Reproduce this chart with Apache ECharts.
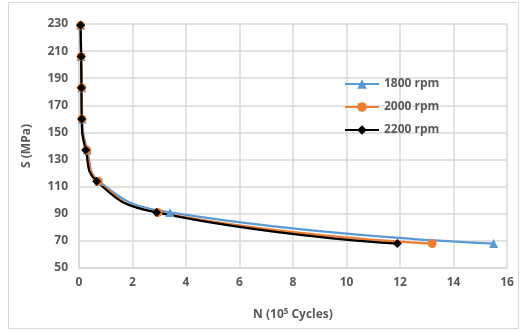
<!DOCTYPE html>
<html>
<head>
<meta charset="utf-8">
<script src="https://cdn.jsdelivr.net/npm/echarts@6/dist/echarts.min.js"></script>
<style>
  html, body { margin: 0; padding: 0; background: #fff; }
  #chart { width: 520px; height: 332px; }
</style>
</head>
<body>
<div id="chart"></div>
<script>
  // 应力值 S (MPa)
  const stress = [229, 206, 183, 160, 137, 114, 91, 68];
  // 循环次数 N (10^5 cycles)
  const cycles1800 = [0.06, 0.08, 0.10, 0.12, 0.31, 0.74, 3.4, 15.5];
  const cycles2000 = [0.06, 0.08, 0.10, 0.11, 0.29, 0.72, 2.95, 13.2];
  const cycles2200 = [0.06, 0.08, 0.09, 0.10, 0.25, 0.66, 2.9, 11.9];
  const seriesNames = ['1800 rpm', '2000 rpm', '2200 rpm'];

  const font = "'Open Sans', 'Liberation Sans', sans-serif";
  const textColor = '#595959';
  const gridColor = '#d9d9d9';
  const txt = { color: textColor, fontFamily: font, fontWeight: 'bold', fontSize: 12 };

  function pairs(xs) {
    return xs.map((x, i) => [x, stress[i]]);
  }

  const chart = echarts.init(document.getElementById('chart'));
  chart.setOption({
    animation: false,
    graphic: [{
      type: 'rect',
      shape: { x: 8.5, y: 2.5, width: 510, height: 326 },
      style: { fill: 'none', stroke: gridColor, lineWidth: 1 },
      silent: true
    }],
    grid: { left: 79, right: 13, top: 24, bottom: 64 },
    legend: {
      orient: 'vertical',
      left: 339,
      top: 73,
      itemGap: 11,
      itemWidth: 34,
      itemHeight: 12,
      data: seriesNames,
      textStyle: txt
    },
    xAxis: {
      type: 'value',
      min: 0, max: 16, interval: 2,
      name: '{a|N (10}{b|5}{a| Cycles)}',
      nameLocation: 'middle',
      nameGap: 40,
      nameTextStyle: Object.assign({}, txt, {
        rich: {
          a: txt,
          b: Object.assign({}, txt, { fontSize: 8, padding: [0, 0, 6, 0] })
        }
      }),
      axisLine: { show: true, lineStyle: { color: gridColor, width: 1.5 } },
      axisTick: { show: false },
      axisLabel: Object.assign({}, txt, { margin: 9 }),
      splitLine: { show: true, lineStyle: { color: gridColor, width: 1.5 } }
    },
    yAxis: {
      type: 'value',
      min: 50, max: 230, interval: 20,
      name: 'S (MPa)',
      nameLocation: 'middle',
      nameGap: 46,
      nameTextStyle: txt,
      axisLine: { show: true, lineStyle: { color: gridColor, width: 1.5 } },
      axisTick: { show: false },
      axisLabel: Object.assign({}, txt, { margin: 11 }),
      splitLine: { show: true, lineStyle: { color: gridColor, width: 1.5 } }
    },
    series: [
      {
        name: seriesNames[0], type: 'line', smooth: 0.5,
        data: pairs(cycles1800),
        symbol: 'triangle', symbolSize: 9,
        itemStyle: { color: '#5b9bd5' },
        lineStyle: { color: '#5b9bd5', width: 2.25 }
      },
      {
        name: seriesNames[1], type: 'line', smooth: 0.5,
        data: pairs(cycles2000),
        symbol: 'circle', symbolSize: 9,
        itemStyle: { color: '#ed7d31' },
        lineStyle: { color: '#ed7d31', width: 2.25 }
      },
      {
        name: seriesNames[2], type: 'line', smooth: 0.5,
        data: pairs(cycles2200),
        symbol: 'diamond', symbolSize: 9,
        itemStyle: { color: '#000000' },
        lineStyle: { color: '#000000', width: 2.25 }
      }
    ]
  });
</script>
</body>
</html>
